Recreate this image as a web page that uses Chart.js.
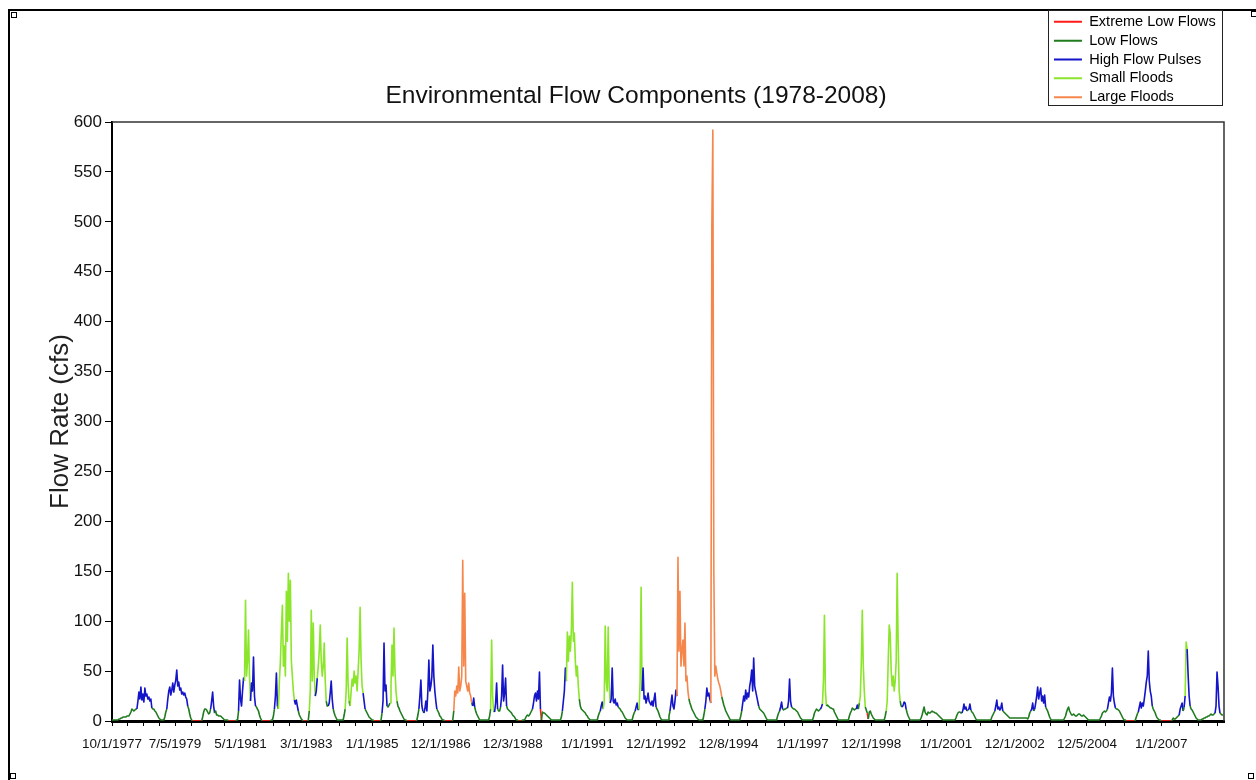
<!DOCTYPE html>
<html>
<head>
<meta charset="utf-8">
<title>Environmental Flow Components (1978-2008)</title>
<script src="https://cdn.jsdelivr.net/npm/chart.js@4.4.1/dist/chart.umd.min.js"></script>
<style>
  html, body { margin: 0; padding: 0; background: #fff; }
  #wrap { position: relative; width: 1256px; height: 780px; overflow: hidden; }
  .frame { position: absolute; left: 8px; top: 9px; width: 1300px; height: 800px;
           border-top: 2px solid #000; border-left: 2px solid #000; }
  .handle { position: absolute; width: 4px; height: 4px; border: 1px solid #000; background: #fff; }
  canvas { position: absolute; left: 0; top: 0; }
</style>
</head>
<body>
<div id="wrap">
  <div class="frame"></div>
  <div class="handle" style="left:11px;top:12px"></div>
  <div class="handle" style="left:1251px;top:11px"></div>
  <div class="handle" style="left:10px;top:773px"></div>
  <div class="handle" style="left:1248px;top:773px"></div>
  <canvas id="chart" width="1256" height="780"></canvas>
</div>
<script>
// Date labels shown under the x axis
const tickDates = ['10/1/1977', '7/5/1979', '5/1/1981', '3/1/1983', '1/1/1985', '12/1/1986',
  '12/3/1988', '1/1/1991', '12/1/1992', '12/8/1994', '1/1/1997', '12/1/1998',
  '1/1/2001', '12/1/2002', '12/5/2004', '1/1/2007'];

// Flow components: code, legend name, line colour
const componentCodes = ['E', 'L', 'H', 'S', 'F'];
const componentNames = ['Extreme Low Flows', 'Low Flows', 'High Flow Pulses', 'Small Floods', 'Large Floods'];
const componentColors = ['#ff1a1a', '#1e7b1e', '#1414c8', '#8be52a', '#f5874c'];

// Flow rate (cfs), three readings per month from 10/1/1977, one line per event or low-flow gap
const flows = [
  1,1,1,1,1,1,1,2,2,3,3,4,4,4,4,5,5,5,7,9,12,11,10,11,12,12,20,29,22,34,21,27,19,33,25,27,22,24,20,22,13,12,12,10,9,7,5,3,2,1,1,
  1,1,4,9,12,22,30,34,26,31,38,29,36,41,51,35,39,31,33,27,29,26,28,24,22,15,12,7,3,1,
  0,0,0,0,0,0,0,0,0,0,
  4,9,12,12,11,9,7,8,12,20,29,15,8,10,6,6,5,5,5,4,3,2,1,1,
  1,1,0,0,0,0,0,0,0,0,1,
  1,10,41,22,15,30,43,40,121,45,60,91,45,20,38,30,64,25,15,14,12,10,6,3,1,
  0,0,0,0,0,0,0,0,0,1,
  1,5,12,25,48,15,12,40,60,90,116,55,75,45,130,80,148,100,141,60,45,30,21,17,21,15,10,6,4,2,1,
  0,0,0,0,0,
  1,10,30,111,40,98,45,25,30,43,55,70,96,60,45,55,78,40,20,15,15,18,28,40,22,12,8,5,3,1,
  1,1,1,1,1,1,
  6,12,30,83,35,20,15,30,42,35,50,38,45,30,50,70,114,60,35,28,20,12,10,8,6,4,3,2,1,
  1,0,0,0,0,0,0,0,
  1,8,20,78,30,36,15,14,16,18,35,76,45,93,50,30,20,15,13,10,8,6,4,2,1,1,
  0,0,0,0,0,0,0,0,0,0,
  1,6,12,25,41,15,10,8,12,20,10,30,61,30,35,44,76,45,30,20,12,10,8,5,4,2,1,1,
  0,0,0,0,0,0,0,0,
  1,10,30,25,35,28,54,30,35,45,161,55,128,40,35,30,38,28,25,18,15,23,14,10,7,5,3,1,
  1,1,1,1,1,1,1,1,
  1,5,12,81,25,10,9,18,38,12,10,10,14,25,56,20,28,43,15,12,11,10,9,8,6,5,4,2,1,1,
  0,0,0,0,1,1,
  1,3,5,6,5,6,8,10,12,18,25,28,20,30,22,49,12,1,9,8,8,7,6,5,4,3,2,1,1,
  1,1,1,1,1,1,1,
  1,4,10,20,30,53,40,89,60,85,70,90,139,80,88,60,45,55,35,22,15,12,11,10,9,8,6,5,3,2,1,1,
  1,1,1,1,1,
  1,5,8,10,15,19,12,20,95,40,30,94,35,18,22,53,20,18,22,16,18,14,13,12,10,9,7,5,3,2,1,1,
  1,1,1,
  1,5,8,10,14,18,11,12,40,134,30,53,22,25,18,22,28,20,18,16,20,15,22,28,14,12,10,7,4,2,1,
  1,1,1,1,1,
  1,5,10,18,26,15,12,20,31,25,164,70,130,55,70,81,55,98,40,45,30,22,18,15,12,10,8,6,4,3,2,1,
  1,1,1,
  1,6,12,20,33,25,28,22,18,495,592,150,45,55,48,42,38,35,30,24,20,16,13,10,8,6,4,2,1,
  1,1,1,1,1,1,1,1,
  1,5,10,18,25,20,31,22,28,24,35,41,51,30,63,35,30,25,20,15,12,11,10,9,8,6,4,2,1,
  1,1,1,1,1,1,1,1,
  1,5,8,10,14,19,12,11,12,12,13,13,20,42,20,14,13,12,12,11,10,9,7,5,3,2,1,
  1,1,1,1,1,1,1,1,1,
  1,4,8,10,12,11,10,11,12,14,17,40,106,30,15,16,15,14,13,13,12,12,9,7,5,3,1,
  1,1,1,1,1,1,1,1,1,
  1,5,8,10,13,12,11,12,12,16,12,18,25,58,111,55,30,14,11,8,2,9,10,7,5,3,2,1,
  1,1,1,1,1,1,1,1,
  1,5,10,20,60,96,88,50,35,45,30,40,60,148,78,30,20,15,14,16,19,18,12,8,5,3,1,
  1,1,1,1,1,1,1,1,1,
  1,3,6,10,14,9,7,6,9,8,8,9,10,9,9,8,8,7,6,5,4,3,2,1,1,
  1,1,1,1,1,1,1,1,1,1,
  1,3,6,8,9,9,8,8,11,17,12,14,10,11,12,17,11,9,8,6,4,2,1,
  1,1,1,1,1,1,1,1,1,1,1,1,1,
  1,4,6,8,10,15,21,12,14,11,13,18,10,9,8,7,6,5,4,3,3,3,3,3,3,3,3,3,3,3,3,3,3,3,3,3,3,2,
  4,8,10,12,18,10,12,18,25,34,22,28,33,20,25,18,26,14,12,10,7,4,2,1,
  1,1,1,1,1,1,1,1,1,1,1,
  1,3,5,9,12,14,10,8,6,6,7,6,5,5,6,7,7,6,5,5,6,5,4,3,2,1,1,
  1,1,1,1,1,1,1,1,1,
  1,3,5,8,9,10,9,10,12,18,24,20,28,53,25,18,13,12,12,11,10,8,6,4,2,1,1,0,0,0,0,0,0,0,0,0,
  1,4,7,9,14,19,13,18,15,22,30,39,45,70,40,30,25,15,12,10,8,5,3,2,1,1,0,0,0,0,0,0,0,0,0,0,0,
  1,3,2,2,3,4,5,6,12,15,18,10,14,25,79,72,46,25,15,12,11,9,7,5,3,2,1,1,1,
  1,2,2,3,3,4,4,5,5,6,7,6,6,7,8,15,49,35,15,8,7,6,6
];

// Component of each reading, as runs of [code, count] in the same order as the flows
const flowClassRuns = [
  ['L',26],['H',14],['L',11],
  ['L',5],['H',20],['L',5],
  ['E',10],
  ['L',9],['H',3],['L',12],
  ['L',2],['E',8],['L',1],
  ['L',2],['H',2],['L',1],['H',2],['S',6],['L',1],['H',4],['L',7],
  ['E',9],['L',1],
  ['L',3],['H',2],['L',2],['S',15],['H',4],['L',5],
  ['E',5],
  ['L',2],['S',5],['L',1],['H',2],['S',8],['L',3],['H',4],['L',5],
  ['L',6],
  ['L',2],['S',3],['L',2],['S',4],['H',1],['S',7],['H',2],['L',8],
  ['L',1],['E',7],
  ['L',2],['H',4],['L',4],['S',6],['L',10],
  ['E',10],
  ['L',3],['H',3],['L',2],['H',2],['L',1],['H',9],['L',8],
  ['E',8],
  ['L',2],['F',17],['L',2],['H',1],['L',6],
  ['L',8],
  ['L',3],['S',2],['L',2],['H',2],['L',4],['H',5],['L',12],
  ['E',4],['L',2],
  ['L',9],['H',7],['E',2],['L',11],
  ['L',7],
  ['L',3],['H',3],['S',13],['L',13],
  ['L',5],
  ['L',4],['H',2],['L',1],['S',6],['H',8],['L',11],
  ['L',3],
  ['L',4],['H',2],['L',2],['S',3],['H',13],['L',7],
  ['L',5],
  ['L',3],['H',3],['L',1],['H',3],['F',11],['L',11],
  ['L',3],
  ['L',3],['H',6],['F',10],['L',10],
  ['L',8],
  ['L',3],['H',16],['L',10],
  ['L',8],
  ['L',4],['H',2],['L',6],['H',3],['L',12],
  ['L',9],
  ['L',9],['H',2],['S',3],['L',13],
  ['L',9],
  ['L',9],['H',1],['L',2],['S',5],['L',2],['E',2],['L',7],
  ['L',8],
  ['L',3],['S',13],['L',3],['H',3],['L',5],
  ['L',9],
  ['L',25],
  ['L',10],
  ['L',8],['H',4],['L',2],['H',2],['L',7],
  ['L',13],
  ['L',5],['H',4],['L',1],['H',2],['L',26],
  ['L',3],['H',2],['L',2],['H',10],['L',7],
  ['L',11],
  ['L',27],
  ['L',9],
  ['L',9],['H',7],['L',11],['E',9],
  ['L',4],['H',13],['L',9],['E',11],
  ['L',8],['H',3],['L',2],['H',1],['S',1],['H',3],['L',11],
  ['L',15],['H',4],['L',4]
];

const readingsPerYear = 36;

function decimalYear(s) {
  const [m, d, y] = s.split('/').map(Number);
  const start = Date.UTC(y, 0, 1), end = Date.UTC(y + 1, 0, 1);
  return y + (Date.UTC(y, m - 1, d) - start) / (end - start);
}

const flowClass = [];
flowClassRuns.forEach(([code, n]) => { for (let k = 0; k < n; k++) flowClass.push(code); });
if (flowClass.length !== flows.length) {
  throw new Error('component list has ' + flowClass.length + ' entries, flows has ' + flows.length);
}

const recordStart = decimalYear(tickDates[0]);
const recordEnd = recordStart + flows.length / readingsPerYear;
const points = flows.map((v, i) => ({ x: recordStart + i / readingsPerYear, y: v }));

const colorOf = {};
componentCodes.forEach((c, i) => { colorOf[c] = componentColors[i]; });

// Each segment takes the colour of the component of its higher end
function segmentColor(ctx) {
  const a = ctx.p0DataIndex, b = ctx.p1DataIndex;
  return colorOf[flows[b] > flows[a] ? flowClass[b] : flowClass[a]];
}

// x ticks: labelled dates plus three unlabelled marks in each interval
const majorTicks = tickDates.map(decimalYear);
const tickValues = [];
const tickText = new Map();
majorTicks.forEach((v, i) => {
  tickValues.push(v);
  tickText.set(v, tickDates[i]);
  if (i < majorTicks.length - 1) {
    const step = (majorTicks[i + 1] - v) / 4;
    for (let k = 1; k < 4; k++) tickValues.push(v + k * step);
  } else {
    const step = (v - majorTicks[i - 1]) / 4;
    for (let t = v + step; t < recordEnd; t += step) tickValues.push(t);
  }
});

Chart.defaults.font.family = "'Liberation Sans', Arial, sans-serif";
Chart.defaults.color = '#111';

// Plot border on top/right, the boxed legend in the upper right corner, title placement
const chartFrame = {
  id: 'chartFrame',
  afterLayout(chart) {
    const lg = chart.legend;
    if (lg) {
      lg.left = 1049.6; lg.top = 10.2;
      lg.width = 175; lg.height = 120;
      lg.right = lg.left + lg.width; lg.bottom = lg.top + lg.height;
    }
    const tb = chart.titleBlock;
    if (tb) {
      tb.left = 24; tb.right = 1248; tb.width = tb.right - tb.left;
    }
  },
  beforeDraw(chart) {
    const ctx = chart.ctx;
    ctx.save();
    ctx.fillStyle = '#fff';
    ctx.fillRect(1048.5, 10.5, 174, 95);
    ctx.strokeStyle = '#222';
    ctx.lineWidth = 1;
    ctx.strokeRect(1048.5, 10.5, 174, 95);
    ctx.restore();
  },
  beforeDatasetsDraw(chart) {
    const { ctx, chartArea: a } = chart;
    ctx.save();
    ctx.strokeStyle = '#333';
    ctx.lineWidth = 1.5;
    ctx.beginPath();
    ctx.moveTo(a.left, a.top);
    ctx.lineTo(a.right, a.top);
    ctx.lineTo(a.right, a.bottom);
    ctx.stroke();
    ctx.restore();
  }
};

new Chart(document.getElementById('chart'), {
  type: 'line',
  data: {
    datasets: [{
      label: 'Flow Rate',
      data: points,
      borderColor: componentColors[1],
      borderWidth: 1.6,
      borderJoinStyle: 'round',
      pointRadius: 0,
      tension: 0,
      segment: { borderColor: segmentColor }
    }]
  },
  options: {
    responsive: false,
    animation: false,
    devicePixelRatio: 1,
    events: [],
    layout: { padding: { top: 82, right: 32, bottom: 0, left: 0 } },
    scales: {
      x: {
        type: 'linear',
        min: recordStart,
        max: recordEnd,
        afterBuildTicks: scale => { scale.ticks = tickValues.map(v => ({ value: v })); },
        afterFit: scale => { scale.height = 59; },
        ticks: {
          autoSkip: false, maxRotation: 0, minRotation: 0, padding: 10,
          color: '#111', font: { size: 13.5 },
          callback: v => tickText.get(v) || ''
        },
        grid: { display: true, drawOnChartArea: false, drawTicks: true, tickLength: 5, color: '#000', tickColor: '#000' },
        border: { display: true, color: '#000', width: 3 }
      },
      y: {
        min: 0,
        max: 600,
        afterFit: scale => { scale.width = 112; },
        ticks: { stepSize: 50, padding: 3, color: '#111', font: { size: 17 } },
        grid: { display: true, drawOnChartArea: false, drawTicks: true, tickLength: 7, color: '#000', tickColor: '#000' },
        border: { display: true, color: '#000', width: 2 },
        title: {
          display: true, text: 'Flow Rate (cfs)', color: '#222',
          font: { size: 26 }, padding: { top: 45.5, bottom: 0 }
        }
      }
    },
    plugins: {
      title: {
        display: true,
        text: 'Environmental Flow Components (1978-2008)',
        color: '#111',
        font: { size: 24.5, weight: 'normal' },
        padding: { top: 0, bottom: 10.6 }
      },
      legend: {
        position: 'chartArea',
        align: 'start',
        onClick: () => {},
        labels: {
          boxWidth: 28, boxHeight: 2, padding: 4.35, color: '#000',
          font: { size: 14.5 },
          generateLabels: () => componentNames.map((name, i) => ({
            text: name, fillStyle: componentColors[i], strokeStyle: componentColors[i],
            lineWidth: 0, hidden: false, datasetIndex: 0
          }))
        }
      },
      tooltip: { enabled: false }
    }
  },
  plugins: [chartFrame]
});
</script>
</body>
</html>
